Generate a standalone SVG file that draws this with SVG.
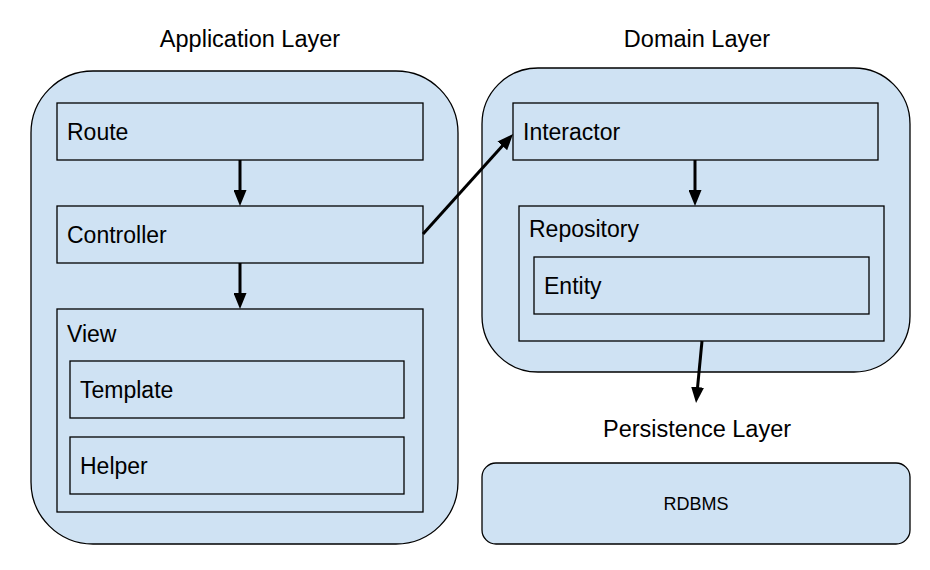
<svg xmlns="http://www.w3.org/2000/svg" width="930" height="570" viewBox="0 0 930 570">
<style>
.box{fill:#cfe2f3;stroke:#000;stroke-width:1.3}
.t{font-family:"Liberation Sans",Arial,sans-serif;font-size:23px;fill:#000}
.h{font-family:"Liberation Sans",Arial,sans-serif;font-size:23.5px;fill:#000;text-anchor:middle}
.s{font-family:"Liberation Sans",Arial,sans-serif;font-size:18px;fill:#000;text-anchor:middle}
.c{stroke:#000;stroke-width:3;fill:none;marker-end:url(#ah)}
</style>
<defs>
<marker id="ah" markerUnits="userSpaceOnUse" markerWidth="16" markerHeight="13" viewBox="0 0 16 13" refX="4" refY="6.5" orient="auto">
<path d="M0,0 L16,6.5 L0,13 z" fill="#000"/>
</marker>
</defs>
<rect width="930" height="570" fill="#fff"/>
<g id="titles">
<text class="h" x="250" y="47">Application Layer</text>
<text class="h" x="697" y="47">Domain Layer</text>
<text class="h" x="697" y="437">Persistence Layer</text>
</g>
<g id="application-layer">
<rect class="box" x="31" y="71" width="427" height="473" rx="62" ry="62"/>
</g>
<g id="route">
<rect class="box" x="57" y="103" width="366" height="57"/>
<text class="t" x="67" y="140">Route</text>
</g>
<g id="controller">
<rect class="box" x="57" y="206" width="366" height="57"/>
<text class="t" x="67" y="243">Controller</text>
</g>
<g id="view">
<rect class="box" x="57" y="309" width="366" height="203"/>
<text class="t" x="67" y="342">View</text>
</g>
<g id="template">
<rect class="box" x="70" y="361" width="334" height="57"/>
<text class="t" x="80" y="398">Template</text>
</g>
<g id="helper">
<rect class="box" x="70" y="437" width="334" height="57"/>
<text class="t" x="80" y="474">Helper</text>
</g>
<g id="domain-layer">
<rect class="box" x="482" y="68" width="428" height="304" rx="56" ry="56"/>
</g>
<g id="interactor">
<rect class="box" x="513" y="103" width="365" height="57"/>
<text class="t" x="523" y="140">Interactor</text>
</g>
<g id="repository">
<rect class="box" x="519" y="206" width="365" height="135"/>
<text class="t" x="529" y="237">Repository</text>
</g>
<g id="entity">
<rect class="box" x="534" y="257" width="335" height="57"/>
<text class="t" x="544" y="294">Entity</text>
</g>
<g id="rdbms">
<rect class="box" x="482" y="463" width="428" height="81" rx="14" ry="14"/>
<text class="s" x="696" y="510">RDBMS</text>
</g>
<g id="connectors">
<line class="c" x1="240" y1="160" x2="240" y2="194"/>
<line class="c" x1="240" y1="263" x2="240" y2="297"/>
<line class="c" x1="695" y1="160" x2="695" y2="194"/>
<line class="c" x1="423" y1="234" x2="505" y2="142.9"/>
<line class="c" x1="702" y1="341" x2="697.2" y2="391.1"/>
</g>
</svg>
